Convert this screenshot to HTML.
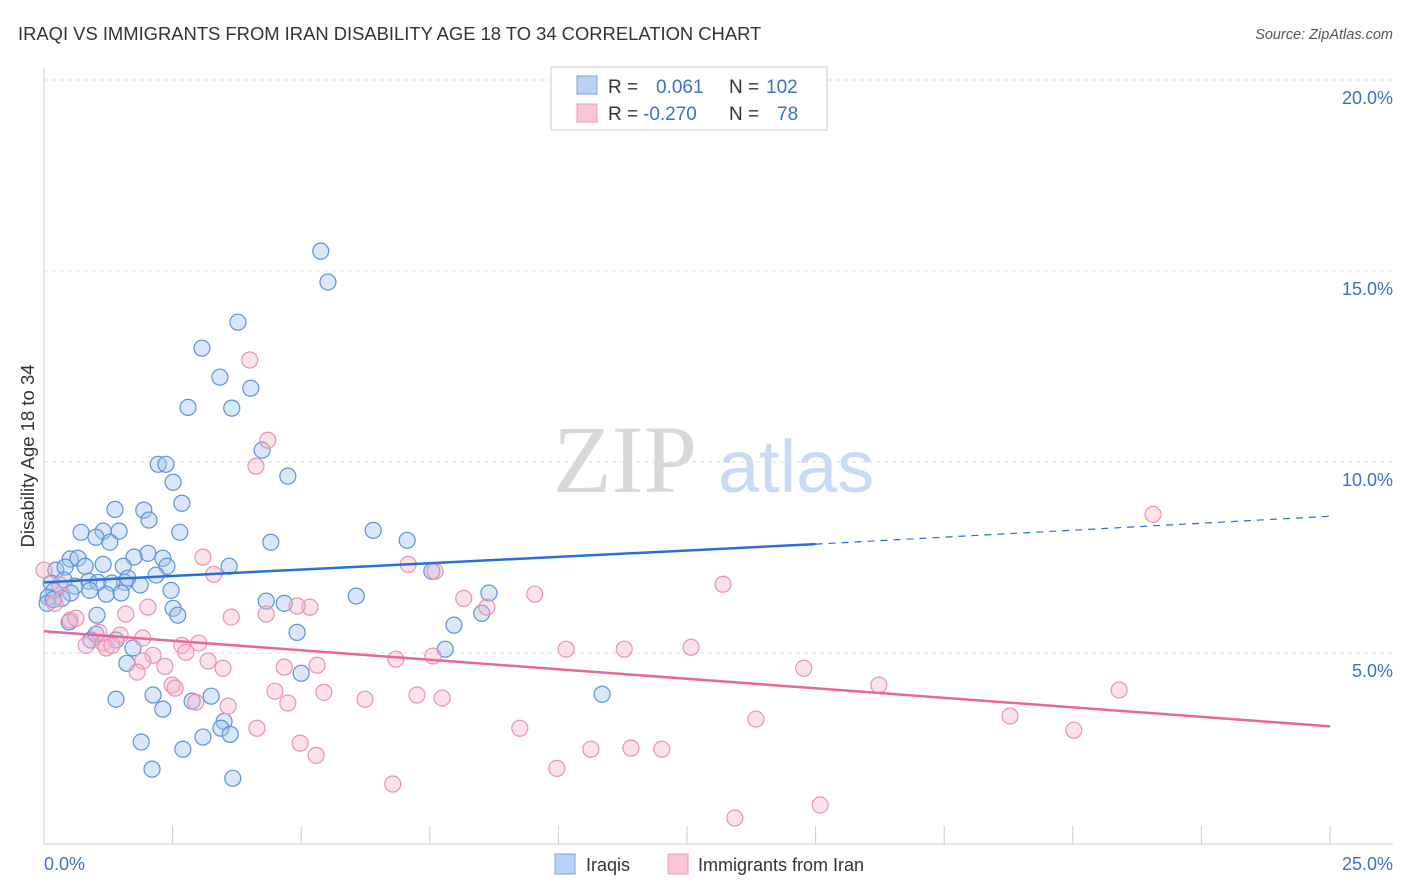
<!DOCTYPE html>
<html><head><meta charset="utf-8">
<style>
body{margin:0;background:#fff;font-family:"Liberation Sans",sans-serif;}
#wrap{position:relative;width:1406px;height:892px;overflow:hidden;}
</style></head>
<body>
<div id="wrap">
<svg id="svg" width="1406" height="892" xmlns="http://www.w3.org/2000/svg">
<text x="18" y="40" font-size="18.4" fill="#333">IRAQI VS IMMIGRANTS FROM IRAN DISABILITY AGE 18 TO 34 CORRELATION CHART</text>
<text x="1393" y="39" font-size="14.5" fill="#555" font-style="italic" text-anchor="end">Source: ZipAtlas.com</text>
<text x="34" y="456" font-size="18.5" fill="#333" text-anchor="middle" transform="rotate(-90 34 456)">Disability Age 18 to 34</text>
<g>
<text x="553" y="492" font-size="96" fill="#d8d8d8" font-family="Liberation Serif,serif">ZIP</text>
<text x="718" y="492" font-size="74" fill="#c9dbf3">atlas</text>
</g>
<g id="grid"></g>
<g id="axes"></g>
<g id="pts"></g>
<g id="trends"></g>
<g>
<rect x="551" y="67" width="276" height="63" fill="#fff" stroke="#ccc"/>
<rect x="577" y="76" width="20" height="18" fill="#b9d1f2" stroke="#7aa3e0"/>
<rect x="577" y="104" width="20" height="18" fill="#f8c6d5" stroke="#eb9bb5"/>
<text x="608" y="93" font-size="19" fill="#333">R = <tspan fill="#3a72c8" x="656">0.061</tspan><tspan x="729" fill="#333">N =</tspan><tspan fill="#3a72c8" x="766">102</tspan></text>
<text x="608" y="120" font-size="19" fill="#333">R = <tspan fill="#3a72c8" x="643">-0.270</tspan><tspan x="729" fill="#333">N =</tspan><tspan fill="#3a72c8" x="777">78</tspan></text>
</g>
<g>
<rect x="555" y="854" width="20" height="20" fill="#b9d1f2" stroke="#7aa3e0"/>
<text x="586" y="871" font-size="18" fill="#333">Iraqis</text>
<rect x="668" y="854" width="20" height="20" fill="#f8c6d5" stroke="#eb9bb5"/>
<text x="698" y="871" font-size="18" fill="#333">Immigrants from Iran</text>
</g>
</svg>
</div>
<script>
const yTicks=[5,10,15,20];
const yTickLabels=["5.0%","10.0%","15.0%","20.0%"];
const xTicks=[0,2.5,5,7.5,10,12.5,15,17.5,20,22.5,25];
const blueX=[5.38,5.52,3.77,3.07,3.42,4.02,2.80,3.65,4.24,2.22,2.37,4.74,2.51,2.68,1.38,1.94,2.04,0.72,1.15,1.46,2.64,6.40,4.41,1.01,7.06,1.28,2.02,0.51,0.66,2.31,1.75,3.60,0.80,2.39,1.54,1.15,0.23,0.41,7.54,2.18,0.87,1.57,1.05,1.63,0.39,1.32,1.87,0.14,0.60,0.19,0.89,1.21,1.50,2.47,0.52,0.08,0.35,6.07,8.65,4.32,4.67,2.51,8.51,2.60,1.03,7.97,0.49,4.92,1.01,0.91,1.40,1.73,7.80,1.61,5.00,10.85,2.12,3.25,1.40,2.88,2.31,3.50,3.44,3.62,3.09,1.89,2.70,2.10,3.67,0.06,0.18];
const blueY=[15.52,14.71,13.66,12.98,12.22,11.93,11.43,11.41,10.31,9.94,9.94,9.63,9.47,8.92,8.76,8.74,8.48,8.16,8.19,8.19,8.16,8.21,7.90,8.03,7.95,7.90,7.61,7.46,7.48,7.48,7.51,7.27,7.27,7.27,7.27,7.32,7.17,7.25,7.14,7.04,6.88,6.85,6.85,6.96,6.91,6.83,6.78,6.83,6.75,6.62,6.64,6.54,6.57,6.64,6.57,6.46,6.43,6.49,6.57,6.36,6.30,6.17,6.04,5.99,5.99,5.73,5.81,5.54,5.49,5.34,5.34,5.13,5.10,4.73,4.47,3.92,3.90,3.87,3.79,3.74,3.53,3.21,3.03,2.87,2.80,2.67,2.48,1.96,1.72,6.30,6.40];
const pinkX=[4.00,4.35,4.12,21.56,3.09,3.30,7.08,7.60,13.20,9.54,8.16,8.61,0.00,0.31,0.21,2.02,5.17,4.92,4.32,1.59,3.64,0.51,0.62,1.07,1.48,1.15,0.82,3.01,2.68,2.76,10.15,11.28,12.58,2.12,1.21,1.92,3.19,2.35,3.48,6.84,7.56,5.31,4.67,1.81,14.77,16.23,2.49,2.55,20.90,4.49,5.44,2.95,4.74,6.24,7.25,7.74,3.58,4.14,18.78,13.84,9.25,20.02,4.98,5.29,10.63,11.41,12.01,9.97,6.78,15.09,13.43,1.92,1.32];
const pinkY=[12.67,10.57,9.89,8.63,7.51,7.06,7.32,7.14,6.80,6.54,6.43,6.20,7.17,6.78,6.30,6.20,6.20,6.23,6.02,6.02,5.94,5.86,5.91,5.54,5.47,5.26,5.20,5.26,5.20,5.02,5.10,5.10,5.15,4.94,5.13,4.79,4.79,4.65,4.60,4.84,4.92,4.68,4.63,4.50,4.60,4.16,4.16,4.08,4.03,4.00,3.97,3.71,3.69,3.79,3.90,3.82,3.61,3.03,3.35,3.27,3.03,2.98,2.64,2.32,2.48,2.51,2.48,1.98,1.57,1.02,0.68,5.39,5.20];
const blueTrendX=[0,15,25];
const blueTrendY=[6.85,7.85,8.58];
const pinkTrendX=[0,25];
const pinkTrendY=[5.57,3.08];

const X0=44,X1=1330,Y0=844,PXY=38.2;
function xs(v){return X0+(X1-X0)*v/25;}
function ys(v){return Y0-PXY*v;}
const NS="http://www.w3.org/2000/svg";
function mk(tag,attrs,parent){const e=document.createElementNS(NS,tag);for(const k in attrs)e.setAttribute(k,attrs[k]);parent.appendChild(e);return e;}
const grid=document.getElementById('grid'),axes=document.getElementById('axes'),pts=document.getElementById('pts'),tr=document.getElementById('trends');
yTicks.forEach((t,i)=>{
 const l=mk('line',{x1:X0,x2:1393,y1:ys(t),y2:ys(t),stroke:'#dcdcdc','stroke-dasharray':'4,4'},grid);
 
 
 const tx=mk('text',{x:1393,y:ys(t)+24,'font-size':18,fill:'#3a72c8','text-anchor':'end'},axes);
 tx.textContent=yTickLabels[i];
 
 
});
const yl=mk('line',{x1:X0,x2:X0,y1:68,y2:Y0,stroke:'#ccc'},axes);


const xl=mk('line',{x1:X0,x2:1393,y1:Y0,y2:Y0,stroke:'#ccc'},axes);


xTicks.forEach(t=>{
 const l=mk('line',{x1:xs(t),x2:xs(t),y1:Y0,y2:Y0-18,stroke:'#ccc'},axes);
 
 
});
const xa=mk('text',{x:44,y:870,'font-size':18,fill:'#3a72c8'},axes);xa.textContent='0.0%';


const xb=mk('text',{x:1393,y:870,'font-size':18,fill:'#3a72c8','text-anchor':'end'},axes);xb.textContent='25.0%';


blueX.forEach((v,i)=>{
 const c=mk('circle',{cx:xs(v),cy:ys(blueY[i]),r:8,fill:'rgba(160,195,240,0.4)',stroke:'#5d92db','stroke-width':1.2},pts);
 
 
});
pinkX.forEach((v,i)=>{
 const c=mk('circle',{cx:xs(v),cy:ys(pinkY[i]),r:8,fill:'rgba(245,180,200,0.4)',stroke:'#ea93b0','stroke-width':1.2},pts);
 
 
});
const b1=mk('line',{x1:xs(blueTrendX[0]),y1:ys(blueTrendY[0]),x2:xs(blueTrendX[1]),y2:ys(blueTrendY[1]),stroke:'#2a6fd6','stroke-width':2.5},tr);


const b2=mk('line',{x1:xs(blueTrendX[1]),y1:ys(blueTrendY[1]),x2:xs(blueTrendX[2]),y2:ys(blueTrendY[2]),stroke:'#2a6fd6','stroke-width':1.2,'stroke-dasharray':'7,6'},tr);


const p1=mk('line',{x1:xs(pinkTrendX[0]),y1:ys(pinkTrendY[0]),x2:xs(pinkTrendX[1]),y2:ys(pinkTrendY[1]),stroke:'#e8679a','stroke-width':2.5},tr);


</script>
</body></html>
